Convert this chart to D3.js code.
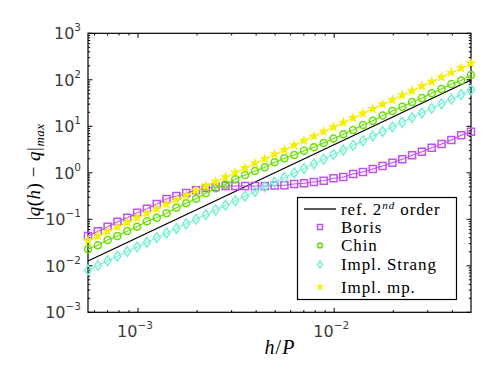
<!DOCTYPE html>
<html>
<head>
<meta charset="utf-8">
<script src="https://cdn.jsdelivr.net/npm/d3@7"></script>
<style>
  body { margin: 0; background: #fff; }
  svg { display: block; }
</style>
</head>
<body>
<svg id="chart" width="491" height="369"></svg>
<script>
// step sizes h/P
var hP = [5.559e-4, 6.240e-4, 7.000e-4, 7.856e-4, 8.815e-4, 9.892e-4, 1.110e-3, 1.246e-3, 1.398e-3, 1.569e-3,
          1.760e-3, 1.976e-3, 2.217e-3, 2.488e-3, 2.792e-3, 3.133e-3, 3.516e-3, 3.945e-3, 4.427e-3, 4.967e-3,
          5.574e-3, 6.255e-3, 7.019e-3, 7.877e-3, 8.839e-3, 9.920e-3, 1.113e-2, 1.249e-2, 1.402e-2, 1.573e-2,
          1.765e-2, 1.981e-2, 2.223e-2, 2.495e-2, 2.799e-2, 3.141e-2, 3.525e-2, 3.956e-2, 4.439e-2, 4.981e-2];

var refX = [5.559e-4, 4.981e-2];
var refY = [0.0127, 99];

var boris = [0.0438, 0.0552, 0.0693, 0.0888, 0.108, 0.139, 0.169, 0.213, 0.273, 0.317,
             0.368, 0.421, 0.471, 0.495, 0.520, 0.520, 0.520, 0.520, 0.520, 0.533,
             0.538, 0.574, 0.594, 0.634, 0.676, 0.762, 0.813, 0.942, 1.04, 1.21,
             1.40, 1.65, 1.95, 2.38, 2.84, 3.47, 4.16, 5.07, 6.40, 7.65];

var chin = [0.0226, 0.0276, 0.0359, 0.0438, 0.0560, 0.0693, 0.0906, 0.108, 0.135, 0.177,
            0.221, 0.277, 0.362, 0.464, 0.560, 0.724, 0.897, 1.09, 1.31, 1.68,
            2.05, 2.41, 2.99, 3.53, 4.37, 5.47, 6.73, 8.32, 10.7, 13.2,
            17.1, 21.3, 26.4, 33.3, 40.6, 51.3, 63.4, 81.3, 96.6, 127];

var strang = [0.00813, 0.0102, 0.0128, 0.0161, 0.0203, 0.0255, 0.0320, 0.0403, 0.0506, 0.0636,
              0.0800, 0.100, 0.126, 0.159, 0.200, 0.251, 0.315, 0.396, 0.498, 0.626,
              0.787, 0.989, 1.24, 1.56, 1.96, 2.47, 3.10, 3.90, 4.90, 6.17,
              7.74, 9.73, 12.2, 15.4, 19.3, 24.3, 30.5, 38.4, 48.2, 60.6];

var implMp = [0.0347, 0.0435, 0.0544, 0.0681, 0.0853, 0.107, 0.134, 0.168, 0.210, 0.263,
              0.330, 0.413, 0.518, 0.648, 0.811, 1.02, 1.27, 1.60, 2.00, 2.50,
              3.13, 3.93, 4.92, 6.15, 7.71, 9.66, 12.1, 15.2, 19.0, 23.8,
              29.8, 37.3, 46.7, 58.5, 73.3, 91.8, 115, 144, 180, 226];

var xMajor = [-3, -2];
var yMajor = [-3, -2, -1, 0, 1, 2, 3];

var seriesList = [
    { name: "Boris", values: boris, color: "#c050f0", symbol: "square" },
    { name: "Chin", values: chin, color: "#66e000", symbol: "circle" },
    { name: "Impl. Strang", values: strang, color: "#78f0d8", symbol: "diamond" },
    { name: "Impl. mp.", values: implMp, color: "#f2f000", symbol: "star" }
];

var svg = d3.select("#chart");
var margin = { left: 88, top: 33.3, right: 471, bottom: 312.3 };

var x = d3.scaleLog().domain([5.559e-4, 4.981e-2]).range([margin.left, margin.right]);
var y = d3.scaleLog().domain([1e-3, 1e3]).range([margin.bottom, margin.top]);

var tickFont = "'DejaVu Sans', sans-serif";
var serif = "'Liberation Serif', 'DejaVu Serif', serif";

// ticks (inward, all four sides)
var g = svg.append("g");
var xMinor = x.ticks();
var yMinor = y.ticks();

function tickLen(v) {
    var l = Math.log10(v);
    return Math.abs(l - Math.round(l)) < 1e-6 ? 4.5 : 2.2;
}

xMinor.forEach(function(v) {
    var px = x(v), len = tickLen(v);
    g.append("line").attr("x1", px).attr("x2", px).attr("y1", margin.bottom).attr("y2", margin.bottom - len);
    g.append("line").attr("x1", px).attr("x2", px).attr("y1", margin.top).attr("y2", margin.top + len);
});
yMinor.forEach(function(v) {
    var py = y(v), len = tickLen(v);
    g.append("line").attr("y1", py).attr("y2", py).attr("x1", margin.left).attr("x2", margin.left + len);
    g.append("line").attr("y1", py).attr("y2", py).attr("x1", margin.right).attr("x2", margin.right - len);
});
g.selectAll("line").attr("stroke", "#000").attr("stroke-width", 1);

// frame
svg.append("rect")
    .attr("x", margin.left).attr("y", margin.top)
    .attr("width", margin.right - margin.left).attr("height", margin.bottom - margin.top)
    .attr("fill", "none").attr("stroke", "#000").attr("stroke-width", 1.2);

// tick labels
xMajor.forEach(function(e) {
    var t = svg.append("text")
        .attr("x", x(Math.pow(10, e)) - 3).attr("y", 337)
        .attr("text-anchor", "middle")
        .attr("font-family", tickFont).attr("font-size", 16).attr("fill", "#3a3a3a");
    t.append("tspan").text("10");
    t.append("tspan").attr("dy", -8).attr("font-size", 10.5).text("\u2212" + Math.abs(e));
});

yMajor.forEach(function(e) {
    var t = svg.append("text")
        .attr("x", 81).attr("y", y(Math.pow(10, e)) + 6)
        .attr("text-anchor", "end")
        .attr("font-family", tickFont).attr("font-size", 16).attr("fill", "#3a3a3a");
    t.append("tspan").text("10");
    t.append("tspan").attr("dy", -8).attr("font-size", 10.5).text(e < 0 ? "\u2212" + Math.abs(e) : String(e));
});

// axis labels
var xl = svg.append("text")
    .attr("x", 280).attr("y", 354)
    .attr("text-anchor", "middle")
    .attr("font-family", serif).attr("font-size", 20).attr("font-style", "italic")
    .attr("letter-spacing", 1);
xl.append("tspan").text("h");
xl.append("tspan").attr("font-style", "normal").text("/");
xl.append("tspan").text("P");

var yl = svg.append("text")
    .attr("transform", "translate(40,172) rotate(-90)")
    .attr("text-anchor", "middle")
    .attr("font-family", serif).attr("font-size", 19).attr("letter-spacing", 0.5);
yl.append("tspan").text("|");
yl.append("tspan").attr("font-style", "italic").text("q");
yl.append("tspan").text("(");
yl.append("tspan").attr("font-style", "italic").text("h");
yl.append("tspan").text(") \u2212 ");
yl.append("tspan").attr("font-style", "italic").text("q");
yl.append("tspan").text("|");
yl.append("tspan").attr("font-style", "italic").attr("font-size", 13).attr("dy", 4).text("max");

// data
var plot = svg.append("g");

plot.append("path")
    .datum(refX.map(function(d, i) { return [d, refY[i]]; }))
    .attr("fill", "none").attr("stroke", "#000").attr("stroke-width", 1.3)
    .attr("d", d3.line().x(function(d) { return x(d[0]); }).y(function(d) { return y(d[1]); }));

function symbolPath(kind, size) {
    if (kind == "square") return d3.symbol().type(d3.symbolSquare).size(size * size)();
    if (kind == "circle") return d3.symbol().type(d3.symbolCircle).size(Math.PI * size * size / 4)();
    if (kind == "diamond") {
        var w = size * 0.5, h = size * 0.7;
        return "M0," + (-h) + "L" + w + ",0L0," + h + "L" + (-w) + ",0Z";
    }
    return d3.symbol().type(d3.symbolStar).size(size * size * 0.35)();
}

seriesList.forEach(function(s) {
    var pts = hP.map(function(h, i) { return [h, s.values[i]]; });
    plot.append("path")
        .datum(pts)
        .attr("fill", "none").attr("stroke", s.color).attr("stroke-width", 1.1)
        .attr("d", d3.line().x(function(d) { return x(d[0]); }).y(function(d) { return y(d[1]); }));
    plot.selectAll(null)
        .data(pts)
        .enter().append("path")
        .attr("transform", function(d) { return "translate(" + x(d[0]) + "," + y(d[1]) + ")"; })
        .attr("d", symbolPath(s.symbol, 7))
        .attr("fill", s.symbol == "star" ? s.color : "none")
        .attr("stroke", s.color)
        .attr("stroke-width", s.symbol == "star" ? 1.2 : 1.5);
});

// legend
var lg = svg.append("g");
lg.append("rect")
    .attr("x", 297.5).attr("y", 197.5).attr("width", 159).attr("height", 102)
    .attr("fill", "#fff").attr("stroke", "#000").attr("stroke-width", 1.2);

var rowY = [209, 227, 245.5, 264.5, 287];
var textX = 341;

lg.append("line").attr("x1", 304).attr("x2", 336).attr("y1", rowY[0]).attr("y2", rowY[0])
    .attr("stroke", "#000").attr("stroke-width", 1.3);
var rt = lg.append("text").attr("x", textX).attr("y", rowY[0] + 5.5)
    .attr("font-family", serif).attr("font-size", 17).attr("letter-spacing", 0.9);
rt.append("tspan").text("ref. 2");
rt.append("tspan").attr("dy", -6).attr("font-size", 11).attr("font-style", "italic").text("nd");
rt.append("tspan").attr("dy", 6).text(" order");

seriesList.forEach(function(s, i) {
    var yy = rowY[i + 1];
    lg.append("path")
        .attr("transform", "translate(320," + yy + ")")
        .attr("d", symbolPath(s.symbol, 5))
        .attr("fill", s.symbol == "star" ? s.color : "none")
        .attr("stroke", s.color).attr("stroke-width", s.symbol == "star" ? 1.2 : 1.5);
    lg.append("text").attr("x", textX).attr("y", yy + 5.5)
        .attr("font-family", serif).attr("font-size", 17).attr("letter-spacing", 0.9)
        .text(s.name);
});
</script>
</body>
</html>
